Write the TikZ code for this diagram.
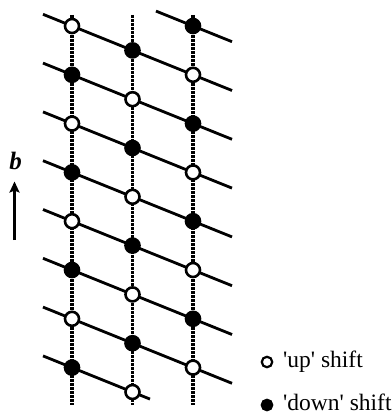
\documentclass[tikz,border=0pt]{standalone}
\usepackage{fontspec}
\setmainfont{Liberation Serif}
\usetikzlibrary{arrows.meta}
\begin{document}
\begin{tikzpicture}[x=1pt,y=-1pt,
  bond/.style={line width=2.8pt},
  chain/.style={line width=3.4pt, dash pattern=on 2.6pt off 1.4pt},
  opensite/.style={circle, draw=black, fill=white, line width=2.6pt, minimum size=14pt, inner sep=0pt},
  fullsite/.style={circle, draw=black, fill=black, line width=2.6pt, minimum size=14pt, inner sep=0pt},
  keyopen/.style={circle, draw=black, fill=white, line width=2.2pt, minimum size=10.5pt, inner sep=0pt},
  keyfull/.style={circle, draw=black, fill=black, line width=2.2pt, minimum size=10.5pt, inner sep=0pt},
  keytext/.style={font=\fontsize{23.5}{23.5}\selectfont, inner sep=0pt},
  axislabel/.style={font=\fontsize{25}{25}\selectfont\bfseries\itshape, inner sep=0pt}
]
\useasboundingbox (0,0) rectangle (391,414);
% grid points
\foreach \k in {0,...,7} {
  \pgfmathsetmacro\ya{26+48.8*\k}
  \coordinate (a\k) at (72,\ya);
  \coordinate (b\k) at (132.5,\ya+24.4);
  \coordinate (c\k) at (193,\ya);
  \coordinate (L\k) at (43,\ya-11.7);
  \coordinate (R\k) at (232,\ya+15.7);
}
\coordinate (S) at (156,26-14.9);
\coordinate (E) at (150,26+48.8*7+31.5);
% vertical chains
\foreach \x/\n in {72/a,132.5/b,193/c} {
  \coordinate (top\n) at (\x,15);
  \coordinate (bot\n) at (\x,405);
  \draw[chain] (top\n) -- (bot\n);
}
% slanted bonds
\draw[bond] (S) -- (c0) -- (R0);
\foreach \k [evaluate=\k as \kk using int(\k+1)] in {0,...,6} {
  \draw[bond] (L\k) -- (a\k) -- (b\k) -- (c\kk) -- (R\kk);
}
\draw[bond] (L7) -- (a7) -- (b7) -- (E);
% sites
\foreach \k in {0,2,4,6} {
  \node[opensite] (na\k) at (a\k) {};
  \node[fullsite] (nb\k) at (b\k) {};
  \node[fullsite] (nc\k) at (c\k) {};
}
\foreach \k in {1,3,5,7} {
  \node[fullsite] (na\k) at (a\k) {};
  \node[opensite] (nb\k) at (b\k) {};
  \node[opensite] (nc\k) at (c\k) {};
}
% axis arrow
\coordinate (arrbot) at (14.5,240);
\coordinate (arrtop) at (14.5,181.5);
\draw[line width=2.4pt, -{Stealth[length=11pt,width=10pt,inset=2pt]}] (arrbot) -- (arrtop);
\node[axislabel] (blab) at (15.5,161) {b};
% legend
\node[keytext, anchor=base west] (uptxt) at (283,367) {\textquotesingle up\textquotesingle\ shift};
\node[keytext, anchor=base west] (downtxt) at (283,410) {\textquotesingle down\textquotesingle\ shift};
\node[keyopen] (keyo) at (267,362) {};
\node[keyfull] (keyf) at (267,405) {};
\end{tikzpicture}
\end{document}
